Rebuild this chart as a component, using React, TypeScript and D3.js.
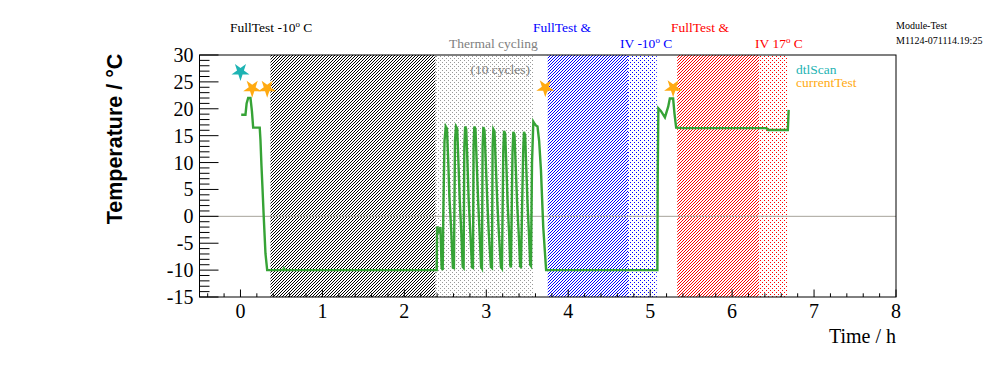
import React from 'react'
import * as d3 from 'd3'

const W = 996
const H = 372
const frame = { left: 199.5, right: 896, top: 55, bottom: 297 }

const xDomain = [-0.5, 8]
const yDomain = [-15, 30]
const xMajor = [0, 1, 2, 3, 4, 5, 6, 7, 8]
const yMajor = [-15, -10, -5, 0, 5, 10, 15, 20, 25, 30]

// temperature [time h, deg C]
const temperature = [
  [0.009, 18.9], [0.061, 18.9], [0.075, 21.0], [0.094, 22.0], [0.122, 22.0], [0.14, 19.5],
  [0.155, 16.5], [0.235, 16.5], [0.244, 14.2], [0.256, 9.5], [0.268, 5.5], [0.284, -0.1],
  [0.305, -6.9], [0.326, -10.0], [0.52, -10.0], [0.53, -9.7], [0.54, -10.0], [2.395, -10.0],
  [2.4, -1.9], [2.415, -2.5], [2.425, -3.2], [2.44, -2.0], [2.455, -9.5], [2.468, -10.0],
  [2.475, 0], [2.49, 14], [2.505, 16.7], [2.52, 16.3], [2.535, 10.5], [2.55, 3.5], [2.57, -2], [2.592, -9.5], [2.605, -9.6],
  [2.618, 14], [2.63, 16.7], [2.645, 16.3], [2.66, 10], [2.676, 3], [2.695, -3], [2.712, -9.4], [2.723, -9.6],
  [2.732, 13], [2.742, 16.7], [2.755, 16.2], [2.77, 10], [2.785, 3], [2.805, -3], [2.826, -9.5], [2.837, -9.6],
  [2.845, 13], [2.854, 16.7], [2.868, 16.2], [2.883, 10], [2.9, 3], [2.918, -3], [2.936, -9.4], [2.947, -9.7],
  [2.955, 13], [2.964, 16.6], [2.978, 16.0], [2.994, 10], [3.012, 3], [3.03, -3], [3.056, -9.4], [3.069, -9.6],
  [3.077, 13], [3.086, 16.2], [3.1, 15.8], [3.116, 9.5], [3.133, 3], [3.153, -3], [3.178, -9.4], [3.191, -9.7],
  [3.207, 12], [3.217, 15.9], [3.23, 15.4], [3.246, 9], [3.26, 2.5], [3.278, -3], [3.293, -9.2], [3.301, -9.5],
  [3.32, 12], [3.33, 15.7], [3.344, 15.2], [3.36, 9], [3.376, 2.5], [3.395, -3], [3.413, -9.3], [3.423, -9.4],
  [3.45, 12], [3.46, 15.7], [3.474, 15.1], [3.488, 9], [3.503, 2.5], [3.52, -3], [3.536, -9], [3.545, -9.2],
  [3.558, 10], [3.574, 17.6], [3.59, 17.2], [3.605, 16.9], [3.625, 16.7], [3.645, 14], [3.667, 8.6],
  [3.695, -2.0], [3.73, -10.0], [5.088, -10.0], [5.092, 7.7], [5.1, 20.1], [5.13, 19.6], [5.18, 18.4],
  [5.22, 20.4], [5.24, 21.9], [5.28, 21.9], [5.296, 19.2], [5.317, 16.5], [5.4, 16.4], [6.42, 16.4],
  [6.44, 16.05], [6.68, 16.05], [6.69, 19.8],
]

const dtlScan = [[0.0, 26.9]]
const currentTest = [[0.143, 23.8], [0.326, 23.8], [3.72, 23.9], [5.28, 23.9]]

// shaded test phases [from h, to h]
const phases = [
  { from: 0.366, to: 2.38, fill: 'hatchBlack' },
  { from: 2.38, to: 3.57, fill: 'dotGray' },
  { from: 3.75, to: 4.73, fill: 'hatchBlue' },
  { from: 4.73, to: 5.08, fill: 'dotBlue' },
  { from: 5.33, to: 6.33, fill: 'hatchRed' },
  { from: 6.33, to: 6.67, fill: 'dotRed' },
]

const green = '#36a336'
const teal = '#1db3b3'
const orange = '#ffaa11'

const Hatch = ({ id, color }) => (
  <pattern id={id} width={3} height={3} patternUnits="userSpaceOnUse">
    <g fill={color} shapeRendering="crispEdges">
      <rect x={2} y={0} width={1} height={1} />
      <rect x={1} y={1} width={1} height={1} />
      <rect x={0} y={2} width={1} height={1} />
    </g>
  </pattern>
)

const Dots = ({ id, color }) => (
  <pattern id={id} width={4} height={4} patternUnits="userSpaceOnUse">
    <g fill={color} shapeRendering="crispEdges">
      <rect x={0} y={0} width={1} height={1} />
      <rect x={2} y={2} width={1} height={1} />
    </g>
  </pattern>
)

const Deg = () => (
  <tspan fontSize={9} dy={-5}>
    o
  </tspan>
)

const App = () => {
  const x = d3.scaleLinear().domain(xDomain).range([frame.left, frame.right])
  const y = d3.scaleLinear().domain(yDomain).range([frame.bottom, frame.top])

  const line = d3
    .line()
    .x((d) => x(d[0]))
    .y((d) => y(d[1]))

  const star = d3.symbol().type(d3.symbolStar).size(100)

  const xMinor = d3.range(-0.4, 8.01, 0.2).filter((v) => Math.abs(v - Math.round(v)) > 0.01)
  const yMinor = d3.range(-15, 30.01, 1).filter((v) => v % 5 !== 0)

  const serif = 'Liberation Serif, Times New Roman, serif'

  return (
    <svg width={W} height={H} style={{ position: 'absolute', left: 0, top: 0, background: '#fff' }}>
      <defs>
        <Hatch id="hatchBlack" color="#000" />
        <Hatch id="hatchBlue" color="#0000ff" />
        <Hatch id="hatchRed" color="#ff0000" />
        <Dots id="dotGray" color="#999" />
        <Dots id="dotBlue" color="#0000ff" />
        <Dots id="dotRed" color="#ff0000" />
      </defs>
      <rect width={W} height={H} fill="#fff" />

      {phases.map((p, i) => (
        <rect
          key={i}
          x={x(p.from)}
          y={frame.top}
          width={x(p.to) - x(p.from)}
          height={frame.bottom - frame.top}
          fill={`url(#${p.fill})`}
        />
      ))}

      <line x1={frame.left} x2={frame.right} y1={y(0)} y2={y(0)} stroke="#a8a49c" strokeWidth={1} />

      <path d={line(temperature)} fill="none" stroke={green} strokeWidth={2.4} />

      {dtlScan.map((d, i) => (
        <path key={'d' + i} d={star()} transform={`translate(${x(d[0])},${y(d[1])}) rotate(180)`} fill={teal} />
      ))}
      {currentTest.map((d, i) => (
        <path key={'c' + i} d={star()} transform={`translate(${x(d[0])},${y(d[1])}) rotate(180)`} fill={orange} />
      ))}

      {/* frame and ticks */}
      <rect
        x={frame.left}
        y={frame.top}
        width={frame.right - frame.left}
        height={frame.bottom - frame.top}
        fill="none"
        stroke="#000"
        strokeWidth={1}
      />
      <g stroke="#000" strokeWidth={1}>
        {yMajor.map((v) => (
          <line key={'ym' + v} x1={frame.left} x2={frame.left + 19} y1={y(v)} y2={y(v)} />
        ))}
        {yMinor.map((v) => (
          <line key={'yn' + v} x1={frame.left} x2={frame.left + 10} y1={y(v)} y2={y(v)} />
        ))}
        {xMajor.map((v) => (
          <line key={'xm' + v} x1={x(v)} x2={x(v)} y1={frame.bottom} y2={frame.bottom - 7.5} />
        ))}
        {xMinor.map((v) => (
          <line key={'xn' + v} x1={x(v)} x2={x(v)} y1={frame.bottom} y2={frame.bottom - 3.7} />
        ))}
      </g>

      <g fontFamily={serif} fontSize={20} fill="#000">
        {yMajor.map((v) => (
          <text key={'yl' + v} x={frame.left - 6} y={y(v) + 7} textAnchor="end">
            {v}
          </text>
        ))}
        {xMajor.map((v) => (
          <text key={'xl' + v} x={x(v)} y={318} textAnchor="middle">
            {v}
          </text>
        ))}
        <text x={frame.right} y={343} textAnchor="end">
          Time / h
        </text>
      </g>

      <text
        transform={`translate(122,139) rotate(-90)`}
        textAnchor="middle"
        fontFamily="Liberation Sans, Arial, sans-serif"
        fontWeight="bold"
        fontSize={21.5}
      >
        Temperature / °C
      </text>

      <g fontFamily={serif} fontSize={13.5}>
        <text x={230} y={32} fill="#000">
          FullTest -10
          <Deg />
          <tspan dy={5}> C</tspan>
        </text>
        <text x={449} y={48} fill="#808080">
          Thermal cycling
        </text>
        <text x={530} y={73.5} fill="#808080" textAnchor="end">
          (10 cycles)
        </text>
        <text x={533} y={32} fill="#0000ff">
          FullTest &amp;
        </text>
        <text x={620} y={48} fill="#0000ff">
          IV -10
          <Deg />
          <tspan dy={5}> C</tspan>
        </text>
        <text x={671} y={32} fill="#ff0000">
          FullTest &amp;
        </text>
        <text x={755} y={48} fill="#ff0000">
          IV 17
          <Deg />
          <tspan dy={5}> C</tspan>
        </text>
        <text x={796} y={73.5} fill={teal}>
          dtlScan
        </text>
        <text x={796} y={87} fill={orange}>
          currentTest
        </text>
      </g>

      <g fontFamily={serif} fontSize={10} fill="#000">
        <text x={896} y={28.5}>
          Module-Test
        </text>
        <text x={896} y={43.5}>
          M1124-071114.19:25
        </text>
      </g>
    </svg>
  )
}

export default App
